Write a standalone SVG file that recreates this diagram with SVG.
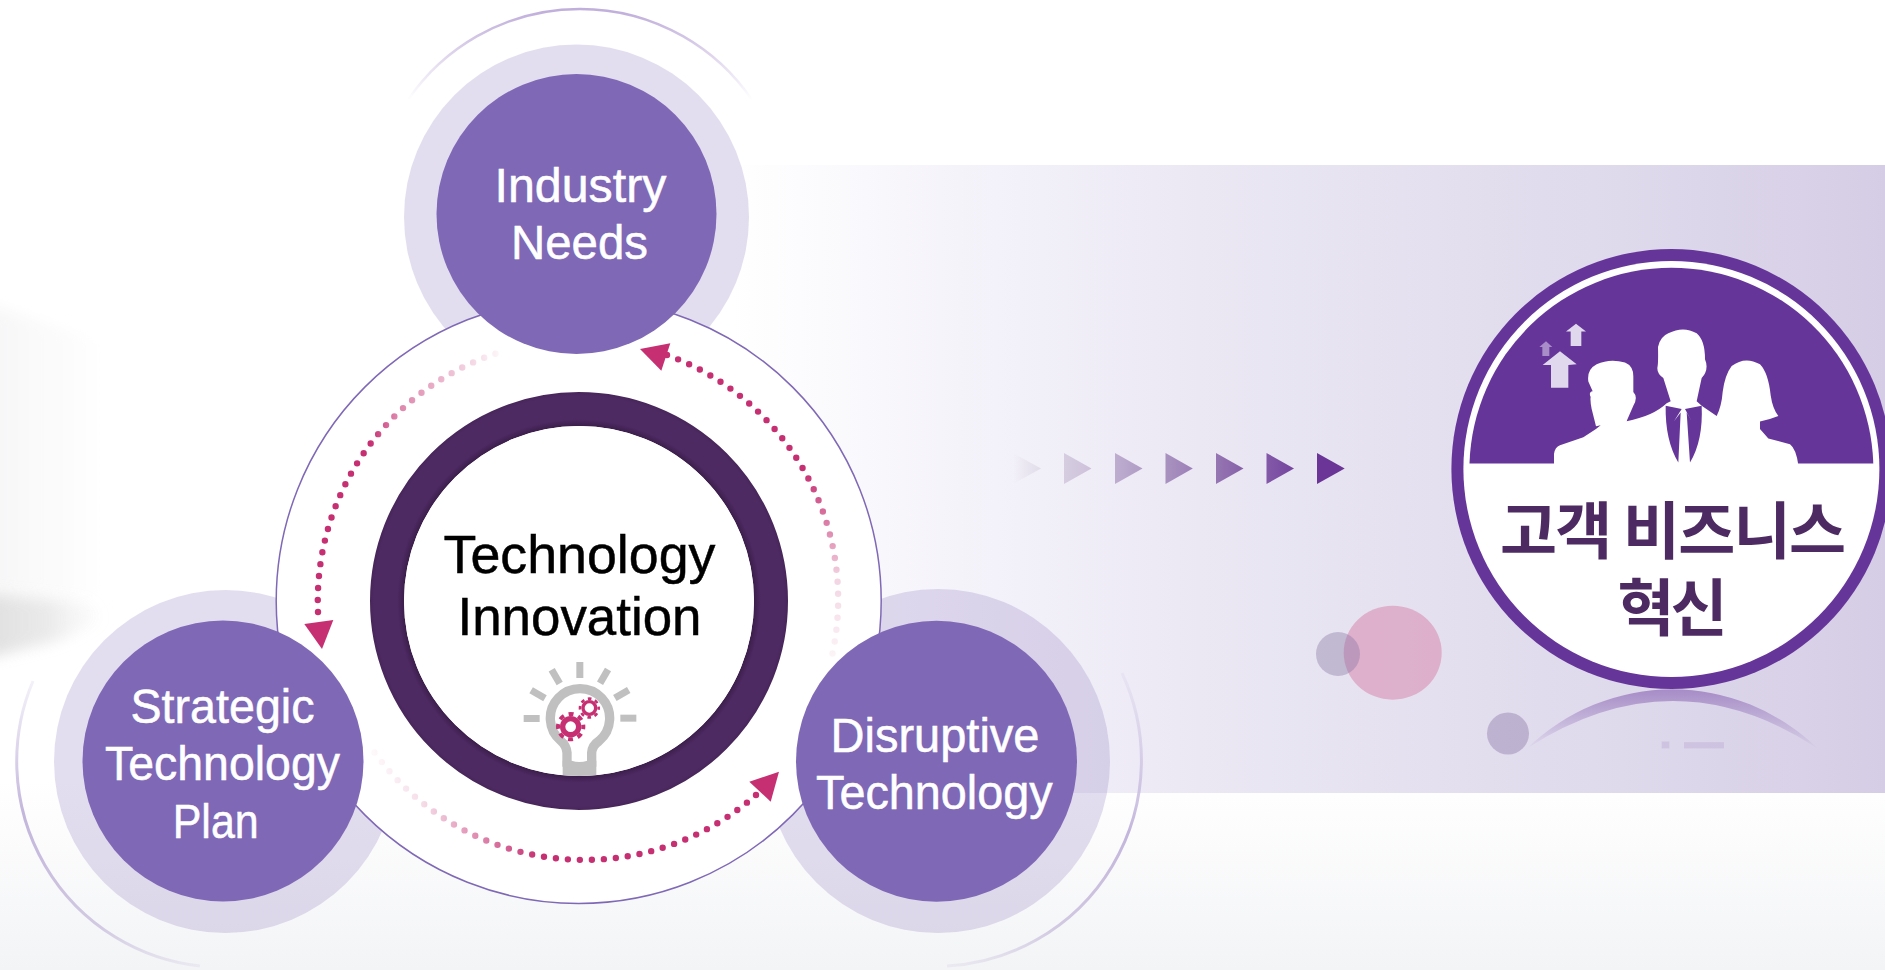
<svg xmlns="http://www.w3.org/2000/svg" width="1885" height="970" viewBox="0 0 1885 970">
<style>
.halo{fill:#7e68b6;fill-opacity:.22}
.disc{fill:#7f68b6}
.lbl{font-family:"Liberation Sans",Arial,sans-serif;font-size:47.500px;fill:#fff;stroke:#fff;stroke-width:.5px;text-anchor:middle}
.ctr{font-family:"Liberation Sans",Arial,sans-serif;font-size:53.500px;fill:#000;stroke:#000;stroke-width:.5px;text-anchor:middle}
.kr{font-family:"Noto Sans CJK KR",sans-serif;font-weight:700;font-size:62px;fill:#4e2a63;text-anchor:middle}
.dots{fill:none;stroke-width:6.400;stroke-linecap:round;stroke-dasharray:0 12}
.head{fill:#c63072}
.ray{fill:#c0c0c0}
.gear{fill:none;stroke:#c63072}
.white{fill:#fff}
</style>
<defs>
<linearGradient id="pan" gradientUnits="userSpaceOnUse" x1="733" y1="0" x2="1885" y2="0"><stop offset="0" stop-color="#fff"/><stop offset=".23" stop-color="#f3f1f9"/><stop offset=".405" stop-color="#ebe8f4"/><stop offset=".61" stop-color="#e4e0ef"/><stop offset=".84" stop-color="#dcd6ea"/><stop offset="1" stop-color="#d5cde5"/></linearGradient>
<linearGradient id="floor" x1="0" y1="0" x2="0" y2="1"><stop offset="0" stop-color="#fff"/><stop offset="1" stop-color="#f3f4f6"/></linearGradient>
<linearGradient id="wall" x1="0" y1="0" x2="1" y2="0"><stop offset="0" stop-color="#f7f7f8"/><stop offset=".25" stop-color="#f7f7f8"/><stop offset="1" stop-color="#f7f7f8" stop-opacity="0"/></linearGradient>
<linearGradient id="cloud" x1="0" y1="0" x2="1" y2="0"><stop offset="0" stop-color="#d4d4d4"/><stop offset=".6" stop-color="#dcdcdc" stop-opacity=".7"/><stop offset="1" stop-color="#e4e4e4" stop-opacity="0"/></linearGradient>
<filter id="soft" x="-30%" y="-30%" width="160%" height="160%"><feGaussianBlur stdDeviation="7"/></filter>
<radialGradient id="ringFill" gradientUnits="userSpaceOnUse" cx="579" cy="601" r="209"><stop offset=".835" stop-color="#3a1d49"/><stop offset=".87" stop-color="#4e2a63"/><stop offset=".98" stop-color="#4e2a63"/><stop offset="1" stop-color="#472559"/></radialGradient>
<linearGradient id="arcT" gradientUnits="userSpaceOnUse" x1="0" y1="100" x2="0" y2="10"><stop offset="0" stop-color="#bba9d8" stop-opacity="0"/><stop offset="1" stop-color="#c0aedb"/></linearGradient>
<linearGradient id="arcL" gradientUnits="userSpaceOnUse" x1="30" y1="670" x2="200" y2="970"><stop offset="0" stop-color="#c0b3dc" stop-opacity=".1"/><stop offset=".35" stop-color="#c3b6dc"/><stop offset=".75" stop-color="#d2cae2"/><stop offset="1" stop-color="#d8d2e6" stop-opacity=".3"/></linearGradient>
<linearGradient id="arcR" gradientUnits="userSpaceOnUse" x1="1125" y1="670" x2="950" y2="970"><stop offset="0" stop-color="#c0b3dc" stop-opacity=".1"/><stop offset=".4" stop-color="#c3b6dc"/><stop offset=".75" stop-color="#d2cae2"/><stop offset="1" stop-color="#d8d2e6" stop-opacity=".3"/></linearGradient>
<linearGradient id="dA" gradientUnits="userSpaceOnUse" x1="0" y1="664" x2="0" y2="472"><stop offset="0" stop-color="#c63072" stop-opacity=".04"/><stop offset=".44" stop-color="#c63072" stop-opacity=".2"/><stop offset="1" stop-color="#c63072"/></linearGradient>
<linearGradient id="dB" gradientUnits="userSpaceOnUse" x1="498" y1="0" x2="370" y2="0"><stop offset="0" stop-color="#c63072" stop-opacity=".05"/><stop offset=".8" stop-color="#c63072" stop-opacity=".6"/><stop offset="1" stop-color="#c63072"/></linearGradient>
<linearGradient id="dC" gradientUnits="userSpaceOnUse" x1="368" y1="0" x2="540" y2="0"><stop offset="0" stop-color="#c63072" stop-opacity=".02"/><stop offset=".3" stop-color="#c63072" stop-opacity=".15"/><stop offset="1" stop-color="#c63072"/></linearGradient>
<linearGradient id="refl" gradientUnits="userSpaceOnUse" x1="0" y1="1333" x2="0" y2="1510"><stop offset="0" stop-color="#a68cc6"/><stop offset="1" stop-color="#a68cc6" stop-opacity="0"/></linearGradient>
<linearGradient id="t1" x1="0" y1="0" x2="1" y2="0"><stop offset="0" stop-color="#e3deea" stop-opacity="0"/><stop offset="1" stop-color="#e0dbe8"/></linearGradient>
<linearGradient id="t2" x1="0" y1="0" x2="1" y2="0"><stop offset="0" stop-color="#d6cde0"/><stop offset="1" stop-color="#cdc1da"/></linearGradient>
<linearGradient id="t3" x1="0" y1="0" x2="1" y2="0"><stop offset="0" stop-color="#bfadd0"/><stop offset="1" stop-color="#b09cc5"/></linearGradient>
<linearGradient id="t4" x1="0" y1="0" x2="1" y2="0"><stop offset="0" stop-color="#a992bf"/><stop offset="1" stop-color="#9c80b8"/></linearGradient>
<linearGradient id="t5" x1="0" y1="0" x2="1" y2="0"><stop offset="0" stop-color="#9676b2"/><stop offset="1" stop-color="#8660a9"/></linearGradient>
<linearGradient id="t6" x1="0" y1="0" x2="1" y2="0"><stop offset="0" stop-color="#8359a8"/><stop offset="1" stop-color="#74459f"/></linearGradient>
</defs>

<g id="background">
<rect width="1885" height="970" fill="#fff"/>
<rect y="780" width="1885" height="190" fill="url(#floor)"/>
<polygon points="-40,295 110,345 110,600 -40,590" fill="url(#wall)" filter="url(#soft)"/>
<polygon points="-40,590 90,603 105,620 60,640 -40,665" fill="url(#cloud)" filter="url(#soft)" opacity=".85"/>
<rect x="733" y="165" width="1152" height="628" fill="url(#pan)"/>
</g>

<g id="decor">
<ellipse cx="1392.700" cy="652.700" rx="49" ry="47" fill="#d992b5" fill-opacity=".62"/>
<circle cx="1338" cy="654" r="22" fill="#8a78a6" fill-opacity=".4"/>
<circle cx="1508" cy="733.500" r="21" fill="#8a78a6" fill-opacity=".42"/>
<path d="M408,100A208,208 0 0 1 752,100" fill="none" stroke="url(#arcT)" stroke-width="2.500"/>
<path d="M33,681A206,206 0 0 0 200,966" fill="none" stroke="url(#arcL)" stroke-width="3"/>
<path d="M1122,673A206,206 0 0 1 947,966" fill="none" stroke="url(#arcR)" stroke-width="3"/>
</g>

<g id="halos">
<circle class="halo" cx="576.500" cy="217" r="172.500"/>
<circle class="halo" cx="225.500" cy="761.500" r="171.500"/>
<circle class="halo" cx="938" cy="761" r="172"/>
</g>

<circle id="orbit" cx="578.700" cy="601" r="302.500" fill="#fff" stroke="#7f68b6" stroke-width="1.500"/>

<g id="chevrons">
<polygon points="1013,453 1041,468.500 1013,484" fill="url(#t1)"/>
<polygon points="1064,453 1091.500,468.500 1064,484" fill="url(#t2)"/>
<polygon points="1115,453 1142.500,468.500 1115,484" fill="url(#t3)"/>
<polygon points="1165.500,453 1192.800,468.500 1165.500,484" fill="url(#t4)"/>
<polygon points="1216,453 1243.500,468.500 1216,484" fill="url(#t5)"/>
<polygon points="1266.500,453 1294,468.500 1266.500,484" fill="url(#t6)"/>
<polygon points="1317,453 1344.700,468.500 1317,484" fill="#6a3597"/>
</g>

<g id="node-center">
<circle cx="579" cy="601" r="192" fill="none" stroke="url(#ringFill)" stroke-width="34"/>
<circle cx="579" cy="601" r="175" fill="#fff"/>
<text class="ctr" x="579.500" y="572.500" textLength="272" lengthAdjust="spacingAndGlyphs">Technology</text>
<text class="ctr" x="579.500" y="635" textLength="244" lengthAdjust="spacingAndGlyphs">Innovation</text>
<g id="bulb" transform="translate(480,640) scale(.33333)">
<g class="ray">
<rect x="289" y="66" width="21" height="48"/>
<rect x="289" y="66" width="21" height="48" transform="rotate(-30 300 235)"/>
<rect x="289" y="66" width="21" height="48" transform="rotate(30 300 235)"/>
<rect x="289" y="66" width="21" height="48" transform="rotate(-60 300 235)"/>
<rect x="289" y="66" width="21" height="48" transform="rotate(60 300 235)"/>
<rect x="289" y="66" width="21" height="48" transform="rotate(-90 300 235)"/>
<rect x="289" y="66" width="21" height="48" transform="rotate(90 300 235)"/>
</g>
<path d="M261,380V338Q259,316 243,303A89,89 0 1 1 357,303Q337,316 335,338V380" fill="none" stroke="#c0c0c0" stroke-width="28"/>
<path d="M248,362H275Q298,370 322,362H349V405Q298,411 248,405Z" fill="#c0c0c0"/>
<circle class="gear" cx="272" cy="260" r="24" stroke-width="16"/>
<circle class="gear" cx="272" cy="260" r="38" stroke-width="12" stroke-dasharray="15 14.850" stroke-dashoffset="7.500"/>
<circle class="gear" cx="328" cy="204" r="19" stroke-width="10"/>
<circle class="gear" cx="328" cy="204" r="28" stroke-width="8" stroke-dasharray="11 11" stroke-dashoffset="5.500"/>
</g>
</g>

<g id="connectors">
<path class="dots" stroke="url(#dA)" d="M667,355A260,260 0 0 1 830,664"/>
<polygon class="head" points="640,349 670.300,343.300 661.300,370.700"/>
<path class="dots" stroke="url(#dB)" d="M318,612A261,261 0 0 1 498.300,352.800"/>
<polygon class="head" points="304.300,624 333.300,620 322,649"/>
<path class="dots" stroke="url(#dC)" d="M756,795A259,259 0 0 1 368,743"/>
<polygon class="head" points="749.300,781.700 779,771.700 770.700,801.700"/>
</g>

<g id="node-industry">
<circle class="disc" cx="576.500" cy="214" r="140"/>
<text class="lbl" x="580.500" y="202" textLength="172" lengthAdjust="spacingAndGlyphs">Industry</text>
<text class="lbl" x="579.500" y="259" textLength="137" lengthAdjust="spacingAndGlyphs">Needs</text>
</g>
<g id="node-strategic">
<circle class="disc" cx="223" cy="761" r="140.500"/>
<text class="lbl" x="222.500" y="722.500" textLength="184" lengthAdjust="spacingAndGlyphs">Strategic</text>
<text class="lbl" x="222.500" y="780" textLength="235" lengthAdjust="spacingAndGlyphs">Technology</text>
<text class="lbl" x="215.700" y="837.500" textLength="86" lengthAdjust="spacingAndGlyphs">Plan</text>
</g>
<g id="node-disruptive">
<circle class="disc" cx="936.500" cy="761.300" r="140.500"/>
<text class="lbl" x="935" y="751.700" textLength="209" lengthAdjust="spacingAndGlyphs">Disruptive</text>
<text class="lbl" x="934.300" y="809.300" textLength="236.500" lengthAdjust="spacingAndGlyphs">Technology</text>
</g>

<g id="node-business">
<circle cx="1671.400" cy="469" r="220" fill="#66359a"/>
<circle cx="1671.400" cy="469" r="208" fill="#fff"/>
<path d="M1469.500,463.500A202,202 0 0 1 1873.300,463.500Z" fill="#66359a"/>
<g transform="translate(1420,230) scale(.33333,.34444)">
<path class="white" d="M402,682V650Q405,630 420,625L490,602L528,578L542,567L528,570L515,520Q510,495 512,485Q505,470 518,468L505,440Q500,405 530,390Q570,372 615,385Q640,395 640,425V470Q655,485 640,510L622,550L620,555Q700,540 740,503L752,497L730,430Q708,415 713,395Q715,380 714,340Q720,310 745,300Q790,278 830,300Q855,320 855,375Q868,405 845,430L830,497L845,510L890,540Q905,510 908,470Q915,420 935,395Q975,365 1020,390Q1045,415 1052,480Q1058,520 1075,540Q1050,550 1020,556V578L1045,605L1110,622Q1128,635 1135,682Z"/>
<path d="M737,510L785,520L762,555L782,530L775,675Q735,610 737,510Z" fill="#66359a"/>
<path d="M845,510L795,520L815,555L800,530L810,675Q850,610 845,510Z" fill="#66359a"/>
<polygon fill="#e0d8ec" points="420,352 470,390 445,392 445,458 393,458 393,392 368,392"/>
<polygon fill="#e0d8ec" points="468,272 498,295 484,295 484,337 452,337 452,295 438,295"/>
<polygon fill="#a98dc8" points="378,323 397,340 388,340 388,366 367,366 367,340 358,340"/>
<path d="M321,1505A640,640 0 0 1 1193,1505Q760,1230 321,1505Z" fill="url(#refl)"/>
<rect x="725" y="1485" width="23" height="20" fill="#b9a8d2" opacity=".4"/>
<rect x="792" y="1487" width="120" height="18" fill="#b9a8d2" opacity=".4"/>
</g>
<text class="kr" x="1673" y="554" textLength="346">고객 비즈니스</text>
<text class="kr" x="1672.500" y="631" textLength="110">혁신</text>
</g>
</svg>
